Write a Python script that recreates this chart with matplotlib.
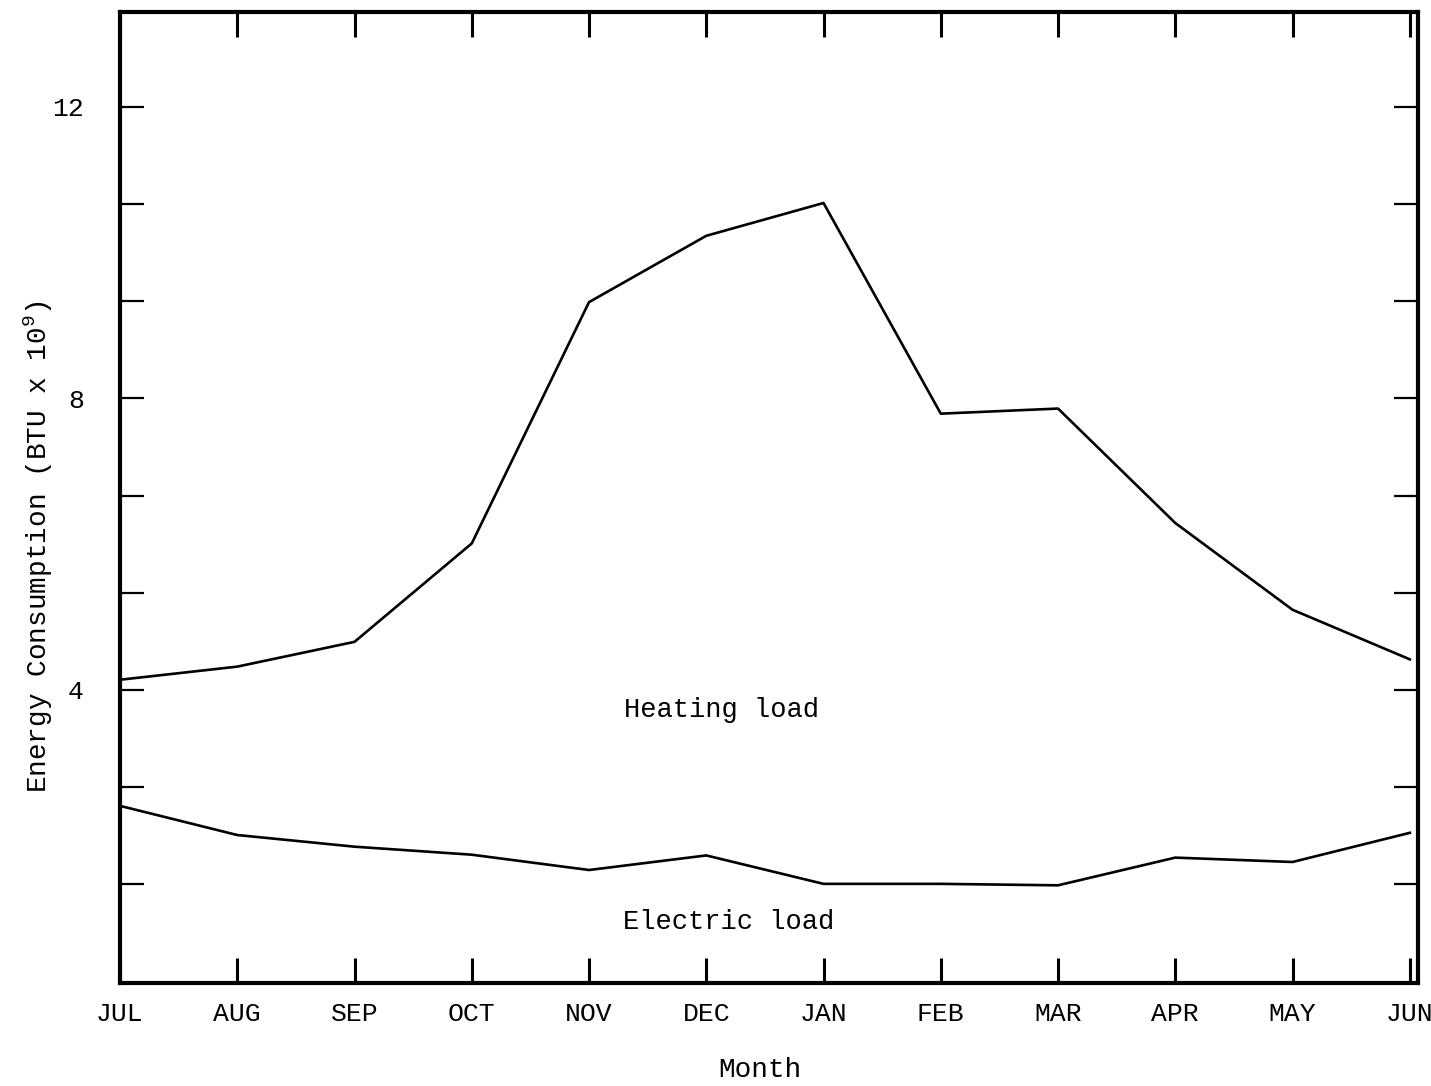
import matplotlib
matplotlib.use("Agg")
import matplotlib.pyplot as plt
import numpy as np

months = ["JUL", "AUG", "SEP", "OCT", "NOV", "DEC", "JAN", "FEB", "MAR", "APR", "MAY", "JUN"]
heating_load = [4.14, 4.32, 4.66, 6.01, 9.32, 10.23, 10.68, 7.79, 7.86, 6.29, 5.10, 4.42]
electric_load = [2.41, 2.01, 1.85, 1.74, 1.53, 1.73, 1.34, 1.34, 1.32, 1.70, 1.64, 2.04]
y_major = [4, 8, 12]
y_major_labels = ["4", "8", "12"]
y_minor = [4/3, 8/3, 16/3, 20/3, 28/3, 32/3]

plt.rcParams['font.family'] = ['Liberation Mono', 'DejaVu Sans Mono']
plt.rcParams['mathtext.default'] = 'regular'

fig = plt.figure(figsize=(14.31, 10.86), dpi=100)
ax = fig.add_axes([120/1431, 103/1086, 1298/1431, 971/1086])

x = np.arange(len(months))
ax.plot(x, heating_load, color='black', lw=1.9)
ax.plot(x, electric_load, color='black', lw=1.9)

ax.set_xlim(0, 11.07)
ax.set_ylim(-0.02, 13.3)

ax.set_xticks(x)
ax.set_xticklabels(months, fontsize=19)
ax.set_yticks(y_major)
ax.set_yticklabels(y_major_labels, fontsize=19)
ax.set_yticks(y_minor, minor=True)

ax.tick_params(axis='x', which='both', direction='in', length=18, width=2.2,
               top=True, bottom=True, pad=14)
ax.tick_params(axis='y', which='both', direction='in', length=17, width=1.6,
               left=True, right=True, pad=26)

for s in ax.spines.values():
    s.set_linewidth(3.0)

ax.text(5.13, 3.73, "Heating load", fontsize=19.5, ha='center', va='center')
ax.text(5.19, 0.82, "Electric load", fontsize=19.5, ha='center', va='center')

ax.set_ylabel("Energy Consumption (BTU x 10$^9$)", fontsize=20, va='center')
ax.yaxis.set_label_coords(-0.063, 0.45)
ax.set_xlabel("Month", fontsize=20, va='center')
ax.xaxis.set_label_coords(0.493, -0.09)

fig.savefig("out.png", dpi=100)
